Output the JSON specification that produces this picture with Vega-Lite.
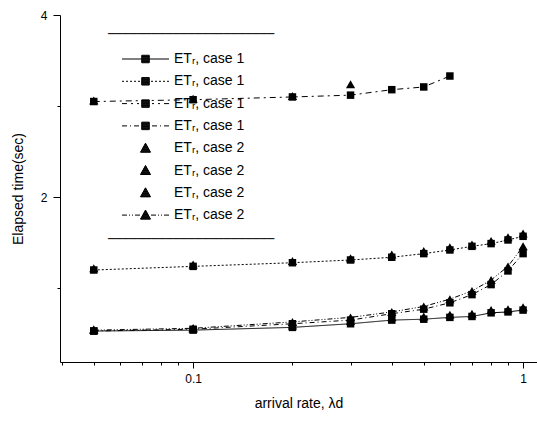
{
  "$schema": "https://vega.github.io/schema/vega-lite/v6.json",
  "width": 477,
  "height": 347,
  "autosize": "none",
  "padding": {"left": 60, "top": 15, "right": 0, "bottom": 59},
  "background": "white",
  "config": {
    "view": {"stroke": null},
    "font": "Liberation Sans",
    "axis": {"grid": false, "domainColor": "black", "tickColor": "black", "labelColor": "black", "titleColor": "black", "labelFontSize": 12, "titleFontSize": 14, "titleFontWeight": "normal", "labelFont": "Liberation Sans", "titleFont": "Liberation Sans"}
  },
  "data": {"values": [
    {"s": "s1", "x": 0.05, "v": 0.53}, {"s": "s1", "x": 0.1, "v": 0.54}, {"s": "s1", "x": 0.2, "v": 0.57}, {"s": "s1", "x": 0.3, "v": 0.61}, {"s": "s1", "x": 0.4, "v": 0.65}, {"s": "s1", "x": 0.5, "v": 0.66}, {"s": "s1", "x": 0.6, "v": 0.68}, {"s": "s1", "x": 0.7, "v": 0.69}, {"s": "s1", "x": 0.8, "v": 0.73}, {"s": "s1", "x": 0.9, "v": 0.74}, {"s": "s1", "x": 1, "v": 0.76},
    {"s": "s2", "x": 0.05, "v": 1.20}, {"s": "s2", "x": 0.1, "v": 1.24}, {"s": "s2", "x": 0.2, "v": 1.28}, {"s": "s2", "x": 0.3, "v": 1.31}, {"s": "s2", "x": 0.4, "v": 1.34}, {"s": "s2", "x": 0.5, "v": 1.38}, {"s": "s2", "x": 0.6, "v": 1.42}, {"s": "s2", "x": 0.7, "v": 1.46}, {"s": "s2", "x": 0.8, "v": 1.49}, {"s": "s2", "x": 0.9, "v": 1.53}, {"s": "s2", "x": 1, "v": 1.57},
    {"s": "s3", "x": 0.05, "v": 3.05}, {"s": "s3", "x": 0.1, "v": 3.07}, {"s": "s3", "x": 0.2, "v": 3.10}, {"s": "s3", "x": 0.3, "v": 3.12}, {"s": "s3", "x": 0.4, "v": 3.18}, {"s": "s3", "x": 0.5, "v": 3.21}, {"s": "s3", "x": 0.6, "v": 3.33},
    {"s": "s4", "x": 0.05, "v": 0.53}, {"s": "s4", "x": 0.1, "v": 0.55}, {"s": "s4", "x": 0.2, "v": 0.61}, {"s": "s4", "x": 0.3, "v": 0.65}, {"s": "s4", "x": 0.4, "v": 0.72}, {"s": "s4", "x": 0.5, "v": 0.77}, {"s": "s4", "x": 0.6, "v": 0.84}, {"s": "s4", "x": 0.7, "v": 0.93}, {"s": "s4", "x": 0.8, "v": 1.04}, {"s": "s4", "x": 0.9, "v": 1.19}, {"s": "s4", "x": 1, "v": 1.38},
    {"s": "s5", "x": 0.05, "v": 0.55}, {"s": "s5", "x": 0.1, "v": 0.56}, {"s": "s5", "x": 0.2, "v": 0.59}, {"s": "s5", "x": 0.3, "v": 0.64}, {"s": "s5", "x": 0.4, "v": 0.68}, {"s": "s5", "x": 0.5, "v": 0.69}, {"s": "s5", "x": 0.6, "v": 0.71}, {"s": "s5", "x": 0.7, "v": 0.72}, {"s": "s5", "x": 0.8, "v": 0.76}, {"s": "s5", "x": 0.9, "v": 0.77}, {"s": "s5", "x": 1, "v": 0.79},
    {"s": "s6", "x": 0.05, "v": 1.22}, {"s": "s6", "x": 0.1, "v": 1.26}, {"s": "s6", "x": 0.2, "v": 1.30}, {"s": "s6", "x": 0.3, "v": 1.33}, {"s": "s6", "x": 0.4, "v": 1.37}, {"s": "s6", "x": 0.5, "v": 1.41}, {"s": "s6", "x": 0.6, "v": 1.45}, {"s": "s6", "x": 0.7, "v": 1.48}, {"s": "s6", "x": 0.8, "v": 1.52}, {"s": "s6", "x": 0.9, "v": 1.56}, {"s": "s6", "x": 1, "v": 1.60},
    {"s": "s7", "x": 0.05, "v": 3.06}, {"s": "s7", "x": 0.1, "v": 3.08}, {"s": "s7", "x": 0.2, "v": 3.11}, {"s": "s7", "x": 0.3, "v": 3.24},
    {"s": "s8", "x": 0.05, "v": 0.54}, {"s": "s8", "x": 0.1, "v": 0.56}, {"s": "s8", "x": 0.2, "v": 0.63}, {"s": "s8", "x": 0.3, "v": 0.68}, {"s": "s8", "x": 0.4, "v": 0.74}, {"s": "s8", "x": 0.5, "v": 0.80}, {"s": "s8", "x": 0.6, "v": 0.88}, {"s": "s8", "x": 0.7, "v": 0.97}, {"s": "s8", "x": 0.8, "v": 1.09}, {"s": "s8", "x": 0.9, "v": 1.24}, {"s": "s8", "x": 1, "v": 1.46}
  ]},
  "encoding": {
    "x": {"field": "x", "type": "quantitative", "title": "arrival rate, λd",
      "scale": {"type": "log", "domain": [0.0395, 1.102], "nice": false},
      "axis": {"values": [0.04, 0.05, 0.06, 0.07, 0.08, 0.09, 0.1, 0.2, 0.3, 0.4, 0.5, 0.6, 0.7, 0.8, 0.9, 1],
        "labelExpr": "datum.value == 0.1 ? '0.1' : (datum.value == 1 ? '1' : '')",
        "tickSize": {"condition": {"test": "datum.value == 0.1 || datum.value == 1", "value": 6}, "value": 3},
        "labelPadding": 5, "titlePadding": 12, "labelFlush": false, "labelOverlap": false}},
    "y": {"field": "v", "type": "quantitative", "title": "Elapsed time(sec)",
      "scale": {"domain": [0.19, 4], "nice": false, "zero": false},
      "axis": {"values": [1, 2, 3, 4],
        "labelExpr": "datum.value % 2 == 0 ? datum.label : ''",
        "tickSize": {"condition": {"test": "datum.value % 2 == 0", "value": 7}, "value": 3},
        "labelPadding": 6, "titlePadding": 15, "labelFlush": false, "labelOverlap": false}}
  },
  "layer": [
    {
      "transform": [{"filter": {"field": "s", "oneOf": ["s1", "s2", "s3", "s4", "s8"]}}],
      "mark": {"type": "line", "color": "black", "strokeWidth": 1},
      "encoding": {
        "strokeDash": {"field": "s", "type": "nominal", "legend": null,
          "scale": {"domain": ["s1", "s2", "s3", "s4", "s8"], "range": [[1, 0], [2, 2], [6, 4, 2, 4], [5, 3, 1, 3], [5, 2, 1, 2, 1, 2]]}}
      }
    },
    {
      "mark": {"type": "point", "filled": true, "color": "black", "opacity": 1},
      "encoding": {
        "shape": {"field": "s", "type": "nominal",
          "scale": {"domain": ["s1", "s2", "s3", "s4", "s5", "s6", "s7", "s8"], "range": ["square", "square", "square", "square", "triangle-up", "triangle-up", "triangle-up", "triangle-up"]},
          "legend": {"title": "───────────────────────", "titleFont": "DejaVu Sans", "titleFontSize": 12, "titleFontWeight": "normal", "titleColor": "black", "titleAnchor": "start", "titlePadding": 2,
            "orient": "none", "legendX": 48, "legendY": 219, "padding": 0, "symbolOpacity": 0, "labelOpacity": 0, "rowPadding": 0, "labelFontSize": 8, "symbolSize": 10, "labelExpr": "''"}},
        "size": {"condition": {"test": "datum.s >= 's5'", "value": 85}, "value": 56}
      }
    },
    {
      "transform": [{"filter": "false"}],
      "mark": {"type": "point", "filled": false, "color": "black", "opacity": 1, "size": 100, "strokeWidth": 1},
      "encoding": {
        "shape": {"field": "s", "type": "nominal",
          "scale": {"domain": ["s1", "s2", "s3", "s4", "s5", "s6", "s7", "s8"],
            "range": [
              "M1.4,0H5.35M6.85,0H10.8M5.35,-0.75H6.85V0.75H5.35ZM5.35,-0.625H6.85M5.35,-0.5H6.85M5.35,-0.375H6.85M5.35,-0.25H6.85M5.35,-0.125H6.85M5.35,0H6.85M5.35,0.125H6.85M5.35,0.25H6.85M5.35,0.375H6.85M5.35,0.5H6.85M5.35,0.625H6.85",
              "M1.4,0H1.8M2.2,0H2.6M3.0,0H3.4M3.8,0H4.2M4.6,0H5.0M7.2,0H7.6M8.0,0H8.4M8.8,0H9.2M9.6,0H10.0M10.4,0H10.8M5.35,-0.75H6.85V0.75H5.35ZM5.35,-0.625H6.85M5.35,-0.5H6.85M5.35,-0.375H6.85M5.35,-0.25H6.85M5.35,-0.125H6.85M5.35,0H6.85M5.35,0.125H6.85M5.35,0.25H6.85M5.35,0.375H6.85M5.35,0.5H6.85M5.35,0.625H6.85",
              "M1.4,0H2.4M3.2,0H3.6M4.4,0H4.8M7.4,0H7.8M8.6,0H9.0M9.8,0H10.8M5.35,-0.75H6.85V0.75H5.35ZM5.35,-0.625H6.85M5.35,-0.5H6.85M5.35,-0.375H6.85M5.35,-0.25H6.85M5.35,-0.125H6.85M5.35,0H6.85M5.35,0.125H6.85M5.35,0.25H6.85M5.35,0.375H6.85M5.35,0.5H6.85M5.35,0.625H6.85",
              "M1.4,0H2.4M3.0,0H3.2M3.8,0H4.8M7.4,0H8.4M9.0,0H9.2M9.8,0H10.8M5.35,-0.75H6.85V0.75H5.35ZM5.35,-0.625H6.85M5.35,-0.5H6.85M5.35,-0.375H6.85M5.35,-0.25H6.85M5.35,-0.125H6.85M5.35,0H6.85M5.35,0.125H6.85M5.35,0.25H6.85M5.35,0.375H6.85M5.35,0.5H6.85M5.35,0.625H6.85",
              "M6.1,-1L7.1,0.8H5.1ZM6.03,-0.875H6.17M5.96,-0.75H6.24M5.89,-0.625H6.31M5.82,-0.5H6.38M5.75,-0.375H6.45M5.68,-0.25H6.52M5.61,-0.125H6.59M5.54,0H6.66M5.48,0.125H6.73M5.41,0.25H6.79M5.34,0.375H6.86M5.27,0.5H6.93M5.2,0.625H7M5.13,0.75H7.07",
              "M6.1,-1L7.1,0.8H5.1ZM6.03,-0.875H6.17M5.96,-0.75H6.24M5.89,-0.625H6.31M5.82,-0.5H6.38M5.75,-0.375H6.45M5.68,-0.25H6.52M5.61,-0.125H6.59M5.54,0H6.66M5.48,0.125H6.73M5.41,0.25H6.79M5.34,0.375H6.86M5.27,0.5H6.93M5.2,0.625H7M5.13,0.75H7.07",
              "M6.1,-1L7.1,0.8H5.1ZM6.03,-0.875H6.17M5.96,-0.75H6.24M5.89,-0.625H6.31M5.82,-0.5H6.38M5.75,-0.375H6.45M5.68,-0.25H6.52M5.61,-0.125H6.59M5.54,0H6.66M5.48,0.125H6.73M5.41,0.25H6.79M5.34,0.375H6.86M5.27,0.5H6.93M5.2,0.625H7M5.13,0.75H7.07",
              "M1.4,0H2.4M2.8,0H3.0M3.4,0H3.6M4.0,0H5.0M7.2,0H8.2M8.6,0H8.8M9.2,0H9.4M9.8,0H10.8M6.1,-1L7.1,0.8H5.1ZM6.03,-0.875H6.17M5.96,-0.75H6.24M5.89,-0.625H6.31M5.82,-0.5H6.38M5.75,-0.375H6.45M5.68,-0.25H6.52M5.61,-0.125H6.59M5.54,0H6.66M5.48,0.125H6.73M5.41,0.25H6.79M5.34,0.375H6.86M5.27,0.5H6.93M5.2,0.625H7M5.13,0.75H7.07"
            ]},
          "legend": {"title": "───────────────────────", "titleFont": "DejaVu Sans", "titleFontSize": 12, "titleFontWeight": "normal", "titleColor": "black", "titleAnchor": "start", "titlePadding": 11,
            "orient": "none", "legendX": 48, "legendY": 14, "padding": 0,
            "labelFontSize": 14, "labelFont": "Liberation Sans", "labelColor": "black", "labelOffset": 52, "rowPadding": 8.3,
            "symbolSize": 100, "symbolStrokeColor": "black", "symbolStrokeWidth": 1, "symbolFillColor": "transparent",
            "labelExpr": "['ETᵣ, case 1', 'ETᵣ, case 1', 'ETᵣ, case 1', 'ETᵣ, case 1', 'ETᵣ, case 2', 'ETᵣ, case 2', 'ETᵣ, case 2', 'ETᵣ, case 2'][indexof(['s1','s2','s3','s4','s5','s6','s7','s8'], datum.value)]"}}
      }
    }
  ],
  "resolve": {"scale": {"shape": "independent", "strokeDash": "independent", "size": "independent"}}
}
